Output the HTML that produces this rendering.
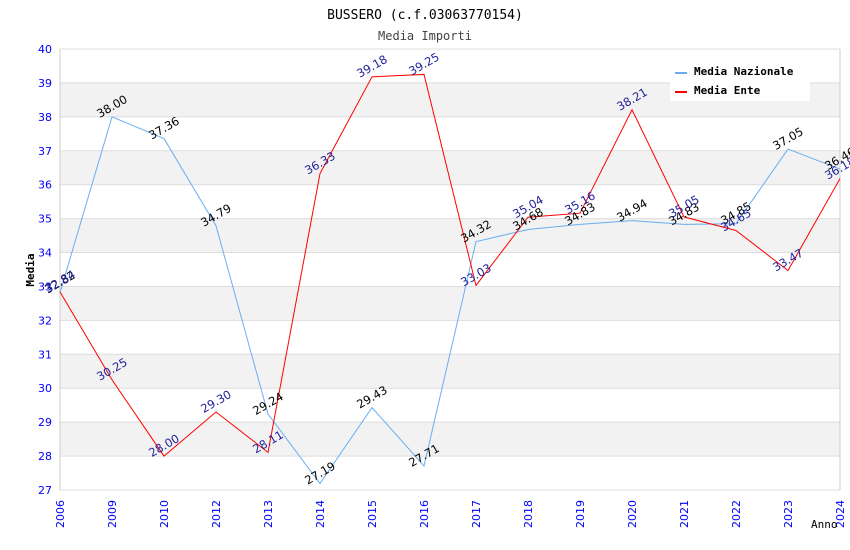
<!DOCTYPE html>
<html><head><meta charset="utf-8"><style>body{margin:0;background:#fff}svg{display:block}</style></head><body>
<svg id="s" width="850" height="550" xmlns="http://www.w3.org/2000/svg" font-family="DejaVu Sans, sans-serif"></svg>
<script>
const s=document.getElementById('s');let h='';
const X=i=>60+52*i, Y=v=>49+(40-v)*33.923;
h+='<text x="425" y="19" text-anchor="middle" font-family="DejaVu Sans Mono,monospace" font-size="13" fill="#000">BUSSERO (c.f.03063770154)</text>';
h+='<text x="425" y="40" text-anchor="middle" font-family="DejaVu Sans Mono,monospace" font-size="12" fill="#444">Media Importi</text>';
for(let v=27;v<40;v++){ if(v%2==0) h+=`<rect x="60" y="${Y(v+1)}" width="780" height="33.923" fill="#f2f2f2"/>`;}
for(let v=27;v<=40;v++){h+=`<line x1="60" x2="840" y1="${Y(v)}" y2="${Y(v)}" stroke="#ddd"/>`;
h+=`<text x="52" y="${Y(v)+4}" text-anchor="end" font-size="11" fill="#00f">${v}</text>`;}
h+='<line x1="60" x2="60" y1="49" y2="490" stroke="#ccc"/><line x1="840" x2="840" y1="49" y2="490" stroke="#ccc"/>';
const yrs=[2006,2009,2010,2012,2013,2014,2015,2016,2017,2018,2019,2020,2021,2022,2023,2024];
yrs.forEach((y,i)=>{h+=`<text transform="translate(${X(i)+4},${528}) rotate(-90)" font-size="11" fill="#00f">${y}</text>`;});
const nat=[32.82,38.00,37.36,34.79,29.24,27.19,29.43,27.71,34.32,34.68,34.83,34.94,34.83,34.85,37.05,36.46];
const ent=[32.84,30.25,28.00,29.30,28.11,36.33,39.18,39.25,33.03,35.04,35.16,38.21,35.05,34.65,33.47,36.18];
const line=(d,c)=>'<polyline fill="none" stroke="'+c+'" stroke-width="1" points="'+d.map((v,i)=>X(i)+','+Y(v)).join(' ')+'"/>';
h+=line(nat,'#6aaef0')+line(ent,'#f00');
const lab=(d,c)=>d.forEach((v,i)=>{h+=`<text transform="translate(${X(i)+2},${Y(v)-7}) rotate(-30)" text-anchor="middle" font-size="11.5" fill="${c}">${v.toFixed(2)}</text>`;});
lab(nat,'#000');lab(ent,'#22229a');
h+='<text transform="translate(34,270) rotate(-90)" text-anchor="middle" font-family="DejaVu Sans Mono,monospace" font-weight="bold" font-size="11">Media</text>';
h+='<text x="811" y="528" font-family="DejaVu Sans Mono,monospace" font-size="11">Anno</text>';
h+='<rect x="670" y="63" width="140" height="38" fill="#fff"/>';
h+='<line x1="675" x2="687" y1="73" y2="73" stroke="#6aaef0" stroke-width="2"/><text x="694" y="75" font-family="DejaVu Sans Mono,monospace" font-weight="bold" font-size="11">Media Nazionale</text>';
h+='<line x1="675" x2="687" y1="92" y2="92" stroke="#f00" stroke-width="2"/><text x="694" y="94" font-family="DejaVu Sans Mono,monospace" font-weight="bold" font-size="11">Media Ente</text>';
s.innerHTML=h;
</script>
</body></html>
